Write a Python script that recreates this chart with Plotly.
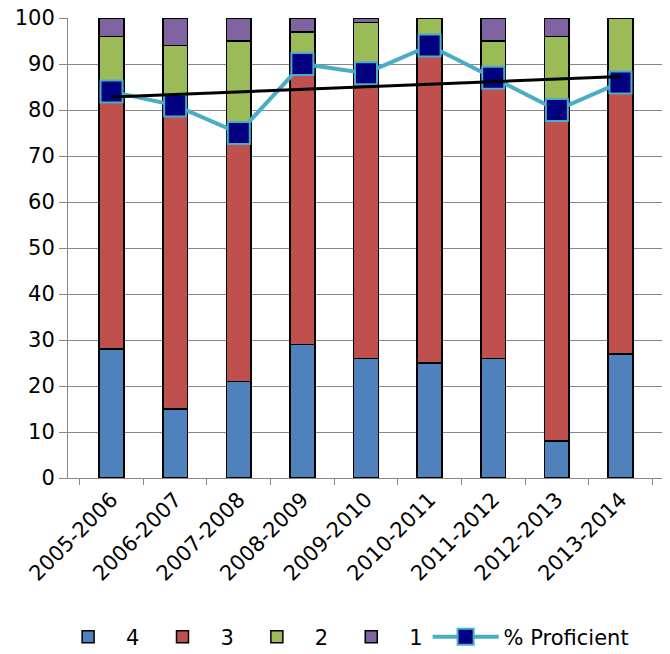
import plotly.graph_objects as go

years = ["2005-2006", "2006-2007", "2007-2008", "2008-2009", "2009-2010",
         "2010-2011", "2011-2012", "2012-2013", "2013-2014"]
level_4 = [28, 15, 21, 29, 26, 25, 26, 8, 27]
level_3 = [56, 66, 54, 61, 62, 69, 61, 72, 59]
level_2 = [12, 13, 20, 7, 11, 6, 8, 16, 14]
level_1 = [4, 6, 5, 3, 1, 0, 5, 4, 0]
proficient = [84, 81, 75, 90, 88, 94, 87, 80, 86]
trend_ends = [82.8, 87.3]

FONT = "DejaVu Sans"

fig = go.Figure()
for name, vals, color in [("4", level_4, "#4F81BD"), ("3", level_3, "#C0504D"),
                          ("2", level_2, "#9BBB59"), ("1", level_1, "#8064A2")]:
    fig.add_trace(go.Bar(x=years, y=vals, name=name,
                         marker=dict(color=color, line=dict(color="black", width=1.5))))

fig.add_trace(go.Scatter(
    x=years, y=proficient, name="% Proficient", mode="lines+markers",
    line=dict(color="#4BACC6", width=4),
    marker=dict(symbol="square", size=22, color="#000080",
                line=dict(color="#4BACC6", width=2)),
))
fig.add_trace(go.Scatter(
    x=[years[0], years[-1]], y=trend_ends, mode="lines", showlegend=False,
    line=dict(color="black", width=3), hoverinfo="skip",
))

# page body adds an 8px margin, so the figure is sized 8px smaller
fig.update_layout(
    width=662, height=646,
    barmode="stack", bargap=0.61,
    plot_bgcolor="white", paper_bgcolor="white",
    margin=dict(l=60, r=6, t=10, b=176, autoexpand=False),
    font=dict(family=FONT, size=21, color="black"),
    legend=dict(orientation="h", x=-0.03, xanchor="left", y=-0.346, yanchor="middle",
                traceorder="normal", font=dict(size=21), itemwidth=66),
)
fig.update_xaxes(
    tickangle=-45, showline=True, linecolor="#888888", linewidth=1,
    ticks="outside", ticklen=6, tickcolor="#888888", tickson="boundaries",
    tickfont=dict(size=21), automargin=False, ticklabeloverflow="allow",
)
fig.update_yaxes(
    range=[0, 100], dtick=10, showgrid=True, gridcolor="#888888", gridwidth=1,
    showline=True, linecolor="#888888", linewidth=1,
    ticks="outside", ticklen=8, tickcolor="#888888", zeroline=False,
    automargin=False, ticklabeloverflow="allow",
)

fig.write_html("out.html")
